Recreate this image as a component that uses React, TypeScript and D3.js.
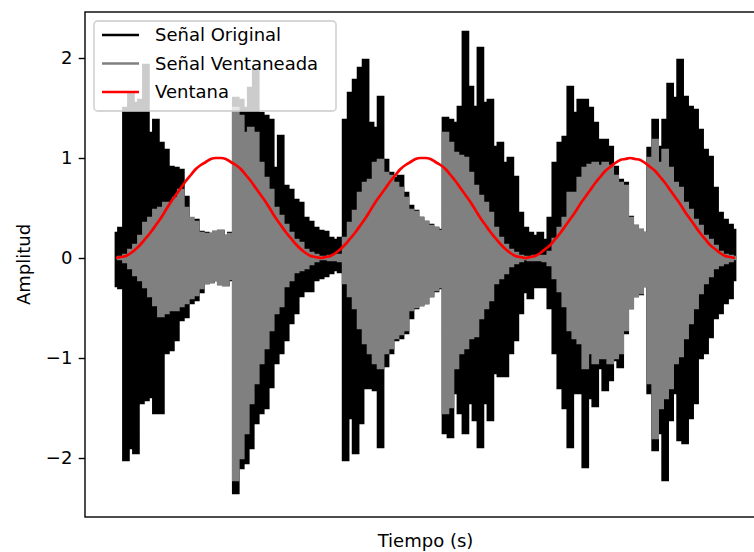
import React, { useEffect, useMemo, useRef } from "react";
import * as d3 from "d3";

const WIDTH = 754;
const HEIGHT = 552;
// the right spine sits just outside the picture (766px)
const MARGIN = { top: 12, right: -12, bottom: 35, left: 85 };
const LW = 2.7; // 1.5pt lines

// envelope of the signals, one column every ~5px of the plot
const originalSup = [
  0.25, 0.3, 1.5, 1.65, 1.55, 1.58, 1.93, 1.25, 1.38, 1.15,
  1.08, 0.91, 0.9, 0.88, 0.61, 0.38, 0.38, 0.26, 0.25, 0.24,
  0.26, 0.27, 0.22, 0.25, 1.6, 1.58, 1.5, 1.7, 1.88, 1.45,
  1.42, 1.38, 0.9, 1.22, 0.72, 0.68, 0.58, 0.55, 0.4, 0.36,
  0.3, 0.27, 0.26, 0.2, 0.18, 0.2, 1.38, 1.65, 1.78, 1.9,
  1.98, 1.35, 1.3, 1.61, 0.98, 0.85, 0.8, 0.82, 0.65, 0.52,
  0.47, 0.4, 0.36, 0.33, 0.3, 0.28, 1.4, 1.38, 1.35, 1.51,
  2.26, 1.71, 1.51, 2.1, 1.55, 1.58, 1.11, 1.15, 0.95, 1.0,
  0.81, 0.45, 0.3, 0.25, 0.22, 0.25, 0.18, 0.4, 0.95, 1.15,
  1.21, 1.71, 1.45, 1.58, 1.58, 1.5, 1.35, 1.18, 1.18, 1.11,
  0.91, 0.78, 0.75, 0.41, 0.32, 0.28, 0.25, 1.1, 1.38, 1.11,
  1.38, 1.74, 1.6, 1.98, 1.61, 1.51, 1.48, 1.28, 1.08, 1.01,
  0.7, 0.45, 0.38, 0.33, 0.28,
];
const originalInf = [
  -0.28, -0.3, -2.02, -1.9, -1.95, -1.45, -1.42, -1.39, -1.55, -1.55,
  -0.95, -0.92, -0.82, -0.62, -0.59, -0.45, -0.42, -0.34, -0.25, -0.24,
  -0.22, -0.26, -0.27, -0.22, -2.35, -2.1, -2.05, -1.9, -1.65, -1.55,
  -1.5, -1.29, -1.05, -0.95, -0.82, -0.65, -0.55, -0.38, -0.33, -0.33,
  -0.22, -0.2, -0.18, -0.15, -0.12, -0.14, -2.02, -1.6, -1.95, -1.65,
  -1.3, -1.3, -1.32, -1.89, -1.08, -0.95, -0.82, -0.8, -0.75, -0.6,
  -0.5, -0.47, -0.45, -0.38, -0.33, -0.3, -1.75, -1.79, -1.35, -1.55,
  -1.75, -1.45, -1.62, -1.89, -1.45, -1.62, -1.15, -1.18, -1.18, -0.95,
  -0.82, -0.55, -0.34, -0.4, -0.29, -0.29, -0.29, -0.5, -0.95, -1.3,
  -1.5, -1.89, -1.35, -1.35, -2.09, -1.4, -1.48, -1.1, -1.32, -1.22,
  -1.02, -1.09, -0.75, -0.5, -0.38, -0.36, -0.28, -1.35, -1.92, -1.75,
  -2.22, -1.62, -1.35, -1.82, -1.85, -1.6, -1.45, -1.0, -0.95, -0.79,
  -0.6, -0.55, -0.45, -0.4, -0.22,
];
const ventaneadaSup = [
  0.0, 0.01, 0.03, 0.08, 0.13, 0.22, 0.35, 0.4, 0.48, 0.5,
  0.55, 0.54, 0.6, 0.68, 0.5, 0.4, 0.36, 0.25, 0.24, 0.24,
  0.26, 0.27, 0.22, 0.24, 1.5, 1.42, 1.25, 1.3, 1.25, 0.95,
  0.8, 0.68, 0.5, 0.42, 0.33, 0.25, 0.18, 0.15, 0.08, 0.05,
  0.03, 0.01, 0.01, 0.02, 0.03, 0.03, 0.2, 0.35, 0.47, 0.65,
  0.75, 0.78, 0.95, 0.98, 0.85, 0.82, 0.75, 0.7, 0.6, 0.48,
  0.46, 0.4, 0.36, 0.32, 0.3, 0.27, 1.25, 1.15, 1.05, 1.02,
  1.0, 0.85, 0.72, 0.62, 0.55, 0.45, 0.3, 0.2, 0.13, 0.08,
  0.05, 0.02, 0.01, 0.01, 0.02, 0.02, 0.02, 0.06, 0.19, 0.3,
  0.4, 0.65, 0.65, 0.8, 0.9, 0.93, 0.95, 0.92, 0.95, 0.92,
  0.82, 0.75, 0.72, 0.4, 0.32, 0.28, 0.25, 1.0, 1.18, 0.95,
  1.08, 0.9, 0.75, 0.7, 0.55, 0.48, 0.38, 0.32, 0.22, 0.18,
  0.12, 0.06, 0.03, 0.02, 0.01,
];
const ventaneadaInf = [
  0.0, -0.01, -0.04, -0.1, -0.17, -0.22, -0.29, -0.38, -0.47, -0.58,
  -0.55, -0.52, -0.52, -0.48, -0.45, -0.4, -0.37, -0.3, -0.25, -0.24,
  -0.22, -0.26, -0.27, -0.21, -2.22, -2.0, -1.75, -1.45, -1.25, -1.05,
  -0.9, -0.72, -0.55, -0.48, -0.28, -0.22, -0.14, -0.12, -0.1, -0.06,
  -0.03, -0.01, -0.01, -0.02, -0.02, -0.03, -0.25, -0.38, -0.5, -0.7,
  -0.85, -0.95, -1.05, -1.1, -0.95, -0.9, -0.8, -0.76, -0.72, -0.52,
  -0.49, -0.47, -0.45, -0.38, -0.32, -0.29, -1.55, -1.49, -1.1, -0.95,
  -0.9, -0.8, -0.78, -0.6, -0.5, -0.42, -0.25, -0.2, -0.15, -0.08,
  -0.05, -0.03, -0.01, -0.02, -0.02, -0.02, -0.03, -0.07, -0.2, -0.33,
  -0.48, -0.72, -0.8, -0.85, -1.1, -0.95, -1.05, -1.0, -1.0, -1.05,
  -1.0, -0.95, -0.72, -0.5, -0.38, -0.35, -0.28, -1.25, -1.8, -1.5,
  -1.4, -1.3, -1.05, -0.98, -0.8, -0.65, -0.5, -0.35, -0.25, -0.18,
  -0.1, -0.07, -0.05, -0.03, -0.01,
];
const ventana = [
  0, 0.01, 0.02, 0.05, 0.09, 0.14, 0.2, 0.26, 0.33, 0.4,
  0.48, 0.56, 0.63, 0.7, 0.77, 0.83, 0.89, 0.93, 0.96, 0.99,
  1.0, 1.0, 0.99, 0.96, 0.93, 0.89, 0.83, 0.77, 0.7, 0.63,
  0.56, 0.48, 0.4, 0.33, 0.26, 0.2, 0.14, 0.09, 0.05, 0.02,
  0.01, 0, 0.01, 0.02, 0.05, 0.09, 0.14, 0.2, 0.26, 0.33,
  0.4, 0.48, 0.56, 0.63, 0.7, 0.77, 0.83, 0.89, 0.93, 0.96,
  0.99, 1.0, 1.0, 0.99, 0.96, 0.93, 0.89, 0.83, 0.77, 0.7,
  0.63, 0.56, 0.48, 0.4, 0.33, 0.26, 0.2, 0.14, 0.09, 0.05,
  0.02, 0.01, 0, 0.01, 0.02, 0.05, 0.09, 0.13, 0.19, 0.25,
  0.32, 0.39, 0.46, 0.54, 0.61, 0.68, 0.75, 0.81, 0.87, 0.91,
  0.95, 0.98, 0.99, 1.0, 0.99, 0.98, 0.95, 0.91, 0.87, 0.81,
  0.75, 0.68, 0.61, 0.54, 0.46, 0.39, 0.32, 0.25, 0.19, 0.13,
  0.09, 0.05, 0.02, 0.01, 0,
];

const yTicks = [-2, -1, 0, 1, 2];
const leyendaLabels = ["Señal Original", "Señal Ventaneada", "Ventana"];
const COLORS = ["#000000", "#808080", "#ff0000"];

const FONT = "DejaVu Sans, sans-serif";

export default function App() {
  const axisRef = useRef<SVGGElement>(null);
  const boundsWidth = WIDTH - MARGIN.left - MARGIN.right;
  const boundsHeight = HEIGHT - MARGIN.top - MARGIN.bottom;
  const n = ventana.length - 1;

  const xScale = useMemo(
    () => d3.scaleLinear().domain([-0.05 * n, 1.05 * n]).range([0, boundsWidth]),
    [n, boundsWidth]
  );
  const yScale = useMemo(
    () => d3.scaleLinear().domain([-2.59, 2.46]).range([boundsHeight, 0]),
    [boundsHeight]
  );

  // y axis drawn with d3
  useEffect(() => {
    const g = d3.select(axisRef.current);
    g.selectAll("*").remove();
    g.call(
      d3
        .axisLeft(yScale)
        .tickValues(yTicks)
        .tickFormat(d3.format("d"))
        .tickSize(6.3)
        .tickSizeOuter(0)
        .tickPadding(6.3)
    );
    g.attr("font-size", 18).attr("font-family", FONT);
    g.select(".domain").remove();
    g.selectAll(".tick line").attr("stroke", "#000").attr("stroke-width", 1.4);
    g.selectAll(".tick text").attr("fill", "#000");
  }, [yScale]);

  const band = (sup: number[], inf: number[]) =>
    d3
      .area<number>()
      .x((_, i) => xScale(i))
      .y0((_, i) => yScale(inf[i]))
      .y1((d) => yScale(d))
      .curve(d3.curveStep)(sup) || "";

  const originalPath = band(originalSup, originalInf);
  const ventaneadaPath = band(ventaneadaSup, ventaneadaInf);
  const ventanaPath =
    d3
      .line<number>()
      .x((_, i) => xScale(i))
      .y((d) => yScale(d))
      .curve(d3.curveMonotoneX)(ventana) || "";

  const legX = 94 - MARGIN.left;
  const legY = 21 - MARGIN.top;

  return (
    <svg
      width={WIDTH}
      height={HEIGHT}
      style={{ position: "absolute", left: 0, top: 0, background: "#fff" }}
    >
      <g transform={`translate(${MARGIN.left},${MARGIN.top})`}>
        <path d={originalPath} fill="#000" stroke="#000" strokeWidth={LW} strokeLinejoin="miter" />
        <path d={ventaneadaPath} fill="#808080" stroke="#808080" strokeWidth={LW} strokeLinejoin="miter" />
        <path d={ventanaPath} fill="none" stroke="#ff0000" strokeWidth={LW} />

        <rect
          x={0}
          y={0}
          width={boundsWidth}
          height={boundsHeight}
          fill="none"
          stroke="#000"
          strokeWidth={1.4}
        />
        <g ref={axisRef} />

        {/* legend */}
        <rect
          x={legX}
          y={legY}
          width={242}
          height={90}
          rx={3.6}
          fill="#fff"
          fillOpacity={0.8}
          stroke="#cccccc"
          strokeOpacity={0.8}
          strokeWidth={1.8}
        />
        {leyendaLabels.map((label, i) => {
          const cy = legY + 14 + i * 28.5;
          return (
            <g key={label}>
              <line
                x1={legX + 8}
                x2={legX + 45}
                y1={cy}
                y2={cy}
                stroke={COLORS[i]}
                strokeWidth={LW}
              />
              <text
                x={legX + 61}
                y={cy}
                dy="0.36em"
                fontSize={18}
                fontFamily={FONT}
                fill="#000"
              >
                {label}
              </text>
            </g>
          );
        })}
      </g>

      <text
        x={MARGIN.left + (766 - MARGIN.left) / 2}
        y={547}
        textAnchor="middle"
        fontSize={18}
        fontFamily={FONT}
        fill="#000"
      >
        Tiempo (s)
      </text>
      <text
        transform={`translate(30,${MARGIN.top + boundsHeight / 2}) rotate(-90)`}
        textAnchor="middle"
        fontSize={18}
        fontFamily={FONT}
        fill="#000"
      >
        Amplitud
      </text>
    </svg>
  );
}
